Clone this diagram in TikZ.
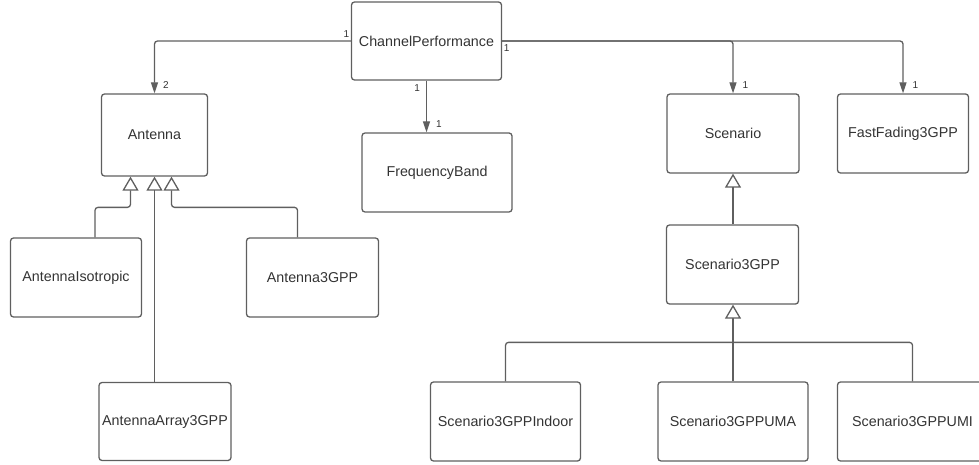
\documentclass[tikz,border=0pt]{standalone}
\usepackage{fontspec}
\setmainfont{Liberation Sans}
\usetikzlibrary{arrows.meta}
\definecolor{umlgray}{HTML}{5F5F5F}
\definecolor{umltext}{HTML}{333333}

\begin{document}
\begin{tikzpicture}[x=1pt, y=-1pt,
	cls/.style={draw=umlgray, line width=1.3pt, rounded corners=3pt, inner sep=0pt,
		minimum height=79pt, text=umltext, font=\fontsize{14.3}{16}\selectfont},
	assoc/.style={draw=umlgray, line width=1.3pt, rounded corners=3pt,
		-{Triangle[width=7pt, length=11pt]}},
	isa/.style={draw=umlgray, line width=1.3pt, rounded corners=3pt,
		-{Triangle[open, width=16pt, length=14pt, fill=white]}},
	mult/.style={text=umltext, font=\fontsize{10}{12}\selectfont, inner sep=1pt}]
	\useasboundingbox (0,0) rectangle (979,465);
	
	% classes
	\node[cls, minimum width=150pt, minimum height=78pt] (cp) at (426.5,41) {ChannelPerformance};
	\node[cls, minimum width=106pt, minimum height=82pt] (ant) at (154.5,135) {Antenna};
	\node[cls, minimum width=150pt] (fb) at (437,172.5) {FrequencyBand};
	\node[cls, minimum width=132pt] (scen) at (733,133.5) {Scenario};
	\node[cls, minimum width=131pt] (ff) at (903,133.5) {FastFading3GPP};
	\node[cls, minimum width=132pt] (s3gpp) at (732.5,264.5) {Scenario3GPP};
	\node[cls, minimum width=131pt] (aiso) at (76,277.5) {AntennaIsotropic};
	\node[cls, minimum width=132pt] (a3gpp) at (312.5,277.5) {Antenna3GPP};
	\node[cls, minimum width=132pt, minimum height=78pt] (aarr) at (165,421.5) {AntennaArray3GPP};
	\node[cls, minimum width=150pt] (s3i) at (505.5,421.5) {Scenario3GPPIndoor};
	\node[cls, minimum width=150pt] (uma) at (733,421.5) {Scenario3GPPUMA};
	\node[cls, minimum width=150pt] (umi) at (912.5,421.5) {Scenario3GPPUMI};
	
	% associations
	\draw[assoc] (cp.west) node[mult, anchor=south east, yshift=2pt] (m1) {1}
		-| (ant.north) node[mult, anchor=south west, xshift=7pt, yshift=3pt] (m2) {2};
	\draw[assoc] (cp.south) node[mult, anchor=north east, xshift=-5pt, yshift=-2pt] (m3) {1}
		-- (cp.south |- fb.north) node[mult, anchor=south west, xshift=8pt, yshift=3pt] (m4) {1};
	\draw[assoc] (cp.east) node[mult, anchor=north west, yshift=-2pt] (m5) {1}
		-| (scen.north) node[mult, anchor=south west, xshift=8pt, yshift=3pt] (m6) {1};
	\draw[assoc] (cp.east) -| (ff.north) node[mult, anchor=south west, xshift=8pt, yshift=3pt] (m7) {1};
	
	% generalisations
	\draw[isa] ([xshift=19pt]aiso.north) -- ++(0,-30) -| ([xshift=-24pt]ant.south);
	\draw[isa] (ant.south |- aarr.north) -- (ant.south);
	\draw[isa] ([xshift=-15pt]a3gpp.north) -- ++(0,-30) -| ([xshift=17pt]ant.south);
	\draw[isa] (scen.south |- s3gpp.north) -- (scen.south);
	\coordinate (hub) at ([yshift=39pt]uma.north);
	\draw[isa] (uma.north) -- (uma.north |- s3gpp.south);
	\draw[draw=umlgray, line width=1.3pt, rounded corners=3pt] (s3i.north) |- (hub);
	\draw[draw=umlgray, line width=1.3pt, rounded corners=3pt] (umi.north) |- (hub);
\end{tikzpicture}
\end{document}
